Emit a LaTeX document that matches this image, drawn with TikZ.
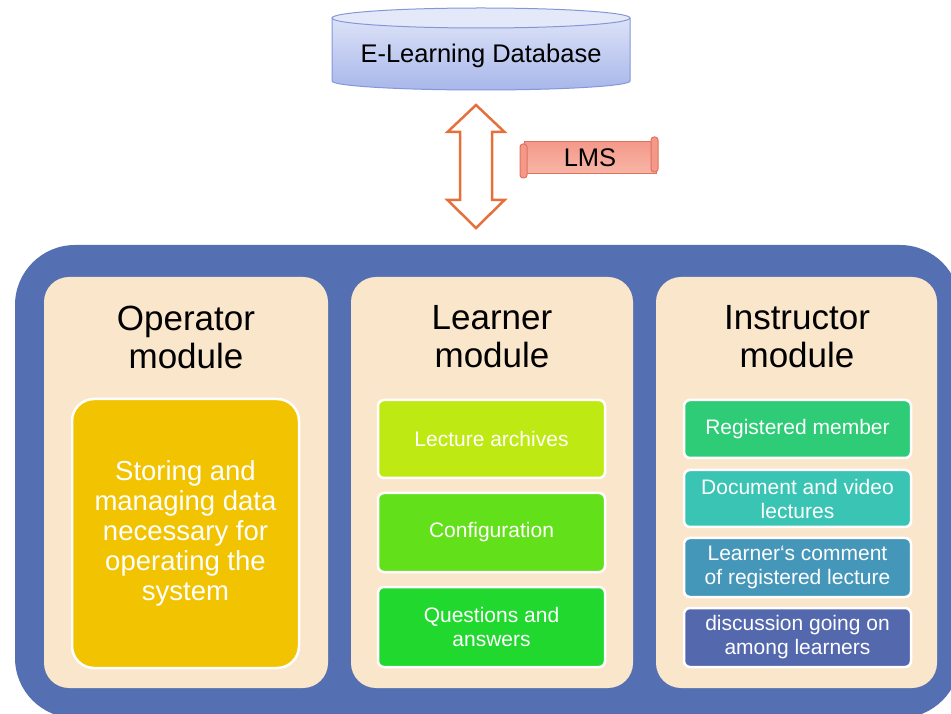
\documentclass[tikz,border=0pt]{standalone}
\usepackage{fontspec}
\setmainfont{Liberation Sans}
\definecolor{dbtop}{HTML}{DCE2F7}
\definecolor{dbbot}{HTML}{A8B7EA}
\definecolor{dbcap}{HTML}{E4E9F9}
\definecolor{dbline}{HTML}{8497D8}
\definecolor{arrline}{HTML}{E6703C}
\definecolor{lmstop}{HTML}{F4998A}
\definecolor{lmsbot}{HTML}{F8B6A7}
\definecolor{lmsline}{HTML}{E2725F}
\definecolor{outerblue}{HTML}{5470B2}
\definecolor{panelc}{HTML}{FAE6CA}
\definecolor{opc}{HTML}{F2C300}
\definecolor{la}{HTML}{BFE912}
\definecolor{lb}{HTML}{62E01A}
\definecolor{lc}{HTML}{20D82E}
\definecolor{ia}{HTML}{2ECC76}
\definecolor{ib}{HTML}{3AC4B4}
\definecolor{ic}{HTML}{4597BA}
\definecolor{id}{HTML}{5468AE}
\tikzset{
  panel/.style={fill=panelc, rounded corners=25, minimum height=411, inner sep=0},
  title/.style={font=\fontsize{35}{38}\selectfont, align=center, text=black},
  sbox/.style={draw=white, line width=2.5, rounded corners=6, minimum width=227, inner sep=0,
    text=white, align=center, font=\fontsize{21}{24}\selectfont},
}
\begin{document}
\begin{tikzpicture}[x=1pt,y=1pt]
\useasboundingbox (0,0) rectangle (951,713);
\clip (0,0) rectangle (951,713);
% database cylinder
\shade[top color=dbtop, bottom color=dbbot] (332,695) -- (332,632)
  arc[start angle=180, end angle=360, x radius=149, y radius=9] -- (630,695) -- cycle;
\draw[dbline, line width=1] (332,695) -- (332,632)
  arc[start angle=180, end angle=360, x radius=149, y radius=9] -- (630,695);
\filldraw[fill=dbcap, draw=dbline, line width=1] (481,695) ellipse[x radius=149, y radius=10];
\node[font=\fontsize{25.5}{28}\selectfont] (db) at (481,657) {E-Learning Database};
% double arrow
\coordinate (atop) at (476,608);
\coordinate (abot) at (476,485);
\draw[arrline, line width=2.5, fill=white, line join=miter]
  (atop) -- ++(28.5,-27) -- ++(-12.5,0) -- ++(0,-68) -- ++(12.5,0) -- (abot)
  -- ++(-28.5,28) -- ++(12.5,0) -- ++(0,68) -- ++(-12.5,0) -- cycle;
% LMS scroll
\shade[top color=lmstop, bottom color=lmsbot] (524,539) rectangle (656,571);
\draw[lmsline, line width=1] (524,539) rectangle (656,571);
\filldraw[fill=lmstop, draw=lmsline, line width=1, rounded corners=3] (520,535) rectangle (527,569);
\filldraw[fill=lmstop, draw=lmsline, line width=1, rounded corners=3] (651,541) rectangle (658,576);
\node[font=\fontsize{25.5}{28}\selectfont] (lms) at (590,555) {LMS};
% outer frame
\node[fill=outerblue, rounded corners=60, minimum width=945, minimum height=473, inner sep=0] (outer) at (487.5,231.5) {};
% panels
\node[panel, minimum width=284] (opP) at (186,230.5) {};
\node[panel, minimum width=282] (leP) at (492,230.5) {};
\node[panel, minimum width=281] (inP) at (796.5,230.5) {};
% titles
\node[title] (opT) at (186,376) {Operator\\module};
\node[title] (leT) at (492,376) {Learner\\module};
\node[title] (inT) at (797,376) {Instructor\\module};
% operator content
\node[draw=white, line width=2.5, fill=opc, rounded corners=22, minimum width=227, minimum height=269,
  inner sep=0, text=white, align=center, font=\fontsize{27.5}{30}\selectfont] (opB) at (185.5,179.5)
  {Storing and\\managing data\\necessary for\\operating the\\system};
% learner content
\node[sbox, fill=la, minimum height=78] (l1) at (491.5,274) {Lecture archives};
\node[sbox, fill=lb, minimum height=79] (l2) at (491.5,180.5) {Configuration};
\node[sbox, fill=lc, minimum height=80] (l3) at (491.5,86) {Questions and\\answers};
% instructor content
\node[sbox, fill=ia, minimum height=58] (i1) at (797.5,284) {Registered member};
\node[sbox, fill=ib, minimum height=57] (i2) at (797.5,214.5) {Document and video\\lectures};
\node[sbox, fill=ic, minimum height=59] (i3) at (797.5,145.5) {Learner\symbol{96}s comment\\of registered lecture};
\node[sbox, fill=id, minimum height=59] (i4) at (797.5,75.5) {discussion going on\\among learners};
\end{tikzpicture}
\end{document}
